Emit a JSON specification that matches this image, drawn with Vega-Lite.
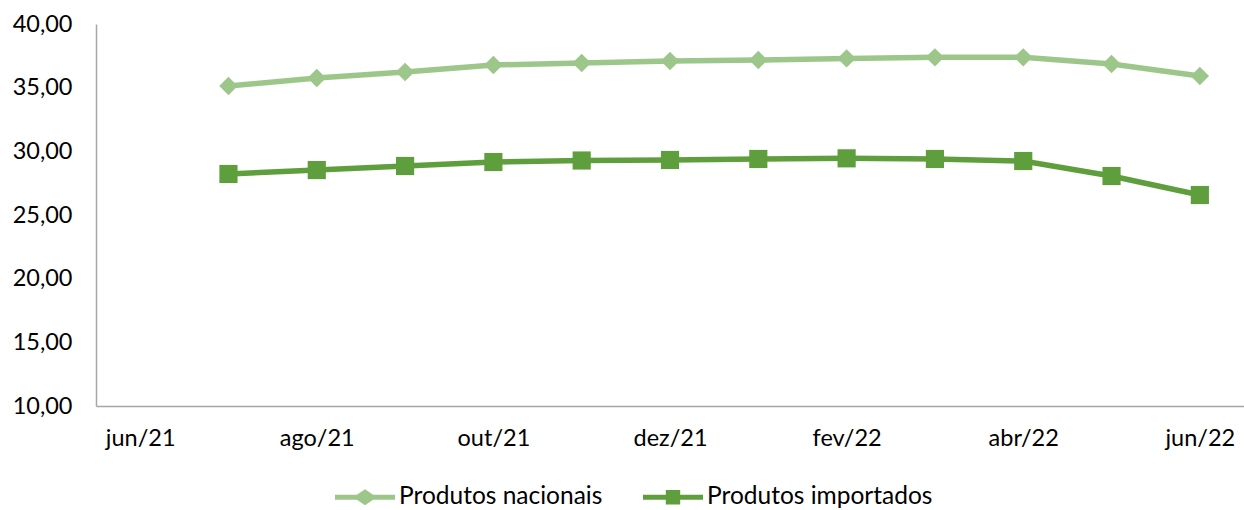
{
  "$schema": "https://vega.github.io/schema/vega-lite/v6.json",
  "width": 1148,
  "height": 382,
  "autosize": {"type": "none"},
  "padding": {"left": 96, "top": 24, "right": 0, "bottom": 104},
  "background": "white",
  "config": {
    "view": {"stroke": null},
    "font": "Lato",
    "axis": {"labelFont": "Lato", "labelFontSize": 23.5, "labelColor": "#000000", "grid": false, "ticks": false, "domainColor": "#a6a6a6", "domainWidth": 1.5, "title": null},
    "legend": {"labelFont": "Lato", "labelFontSize": 24.5, "labelColor": "#000000"}
  },
  "data": {
    "values": [
      {"mes": "jul/21", "serie": "Produtos nacionais", "valor": 35.13},
      {"mes": "ago/21", "serie": "Produtos nacionais", "valor": 35.76},
      {"mes": "set/21", "serie": "Produtos nacionais", "valor": 36.23},
      {"mes": "out/21", "serie": "Produtos nacionais", "valor": 36.78},
      {"mes": "nov/21", "serie": "Produtos nacionais", "valor": 36.94},
      {"mes": "dez/21", "serie": "Produtos nacionais", "valor": 37.09},
      {"mes": "jan/22", "serie": "Produtos nacionais", "valor": 37.17},
      {"mes": "fev/22", "serie": "Produtos nacionais", "valor": 37.3},
      {"mes": "mar/22", "serie": "Produtos nacionais", "valor": 37.38},
      {"mes": "abr/22", "serie": "Produtos nacionais", "valor": 37.38},
      {"mes": "mai/22", "serie": "Produtos nacionais", "valor": 36.86},
      {"mes": "jun/22", "serie": "Produtos nacionais", "valor": 35.92},
      {"mes": "jul/21", "serie": "Produtos importados", "valor": 28.22},
      {"mes": "ago/21", "serie": "Produtos importados", "valor": 28.53},
      {"mes": "set/21", "serie": "Produtos importados", "valor": 28.85},
      {"mes": "out/21", "serie": "Produtos importados", "valor": 29.16},
      {"mes": "nov/21", "serie": "Produtos importados", "valor": 29.28},
      {"mes": "dez/21", "serie": "Produtos importados", "valor": 29.32},
      {"mes": "jan/22", "serie": "Produtos importados", "valor": 29.4},
      {"mes": "fev/22", "serie": "Produtos importados", "valor": 29.45},
      {"mes": "mar/22", "serie": "Produtos importados", "valor": 29.4},
      {"mes": "abr/22", "serie": "Produtos importados", "valor": 29.24},
      {"mes": "mai/22", "serie": "Produtos importados", "valor": 28.06},
      {"mes": "jun/22", "serie": "Produtos importados", "valor": 26.57}
    ]
  },
  "encoding": {
    "x": {
      "field": "mes",
      "type": "ordinal",
      "scale": {"type": "point", "padding": 0.5, "domain": ["jun/21", "jul/21", "ago/21", "set/21", "out/21", "nov/21", "dez/21", "jan/22", "fev/22", "mar/22", "abr/22", "mai/22", "jun/22"]},
      "axis": {"values": ["jun/21", "ago/21", "out/21", "dez/21", "fev/22", "abr/22", "jun/22"], "labelAngle": 0, "labelPadding": 20}
    },
    "y": {
      "field": "valor",
      "type": "quantitative",
      "scale": {"domain": [10, 40], "nice": false, "zero": false},
      "axis": {"values": [10, 15, 20, 25, 30, 35, 40], "labelExpr": "replace(format(datum.value, '.2f'), '.', ',')", "labelPadding": 24}
    },
    "color": {
      "field": "serie",
      "type": "nominal",
      "scale": {"domain": ["Produtos nacionais", "Produtos importados"], "range": ["#9dc78a", "#5f9e3c"]},
      "legend": {
        "title": null,
        "orient": "none",
        "legendX": 239,
        "legendY": 443,
        "direction": "horizontal",
        "symbolSize": 3600,
        "symbolStrokeWidth": 0,
        "labelOffset": 4,
        "labelLimit": 0,
        "columnPadding": 40,
        "encode": {
          "symbols": {
            "update": {
              "shape": {"signal": "datum.value === 'Produtos nacionais' ? 'M-1,-0.08H-0.27L0,-0.27L0.27,-0.08H1V0.08H0.27L0,0.27L-0.27,0.08H-1Z' : 'M-1,-0.08H-0.24V-0.24H0.24V-0.08H1V0.08H0.24V0.24H-0.24V0.08H-1Z'"},
              "fill": {"scale": "color", "field": "value"},
              "fillOpacity": {"value": 1},
              "strokeWidth": {"value": 0}
            }
          }
        }
      }
    }
  },
  "layer": [
    {"mark": {"type": "line", "strokeWidth": 5.5}},
    {
      "transform": [{"filter": "datum.serie === 'Produtos nacionais'"}],
      "mark": {"type": "point", "filled": true, "opacity": 1, "size": 340, "shape": "diamond"}
    },
    {
      "transform": [{"filter": "datum.serie === 'Produtos importados'"}],
      "mark": {"type": "point", "filled": true, "opacity": 1, "size": 330, "shape": "square"}
    }
  ]
}
